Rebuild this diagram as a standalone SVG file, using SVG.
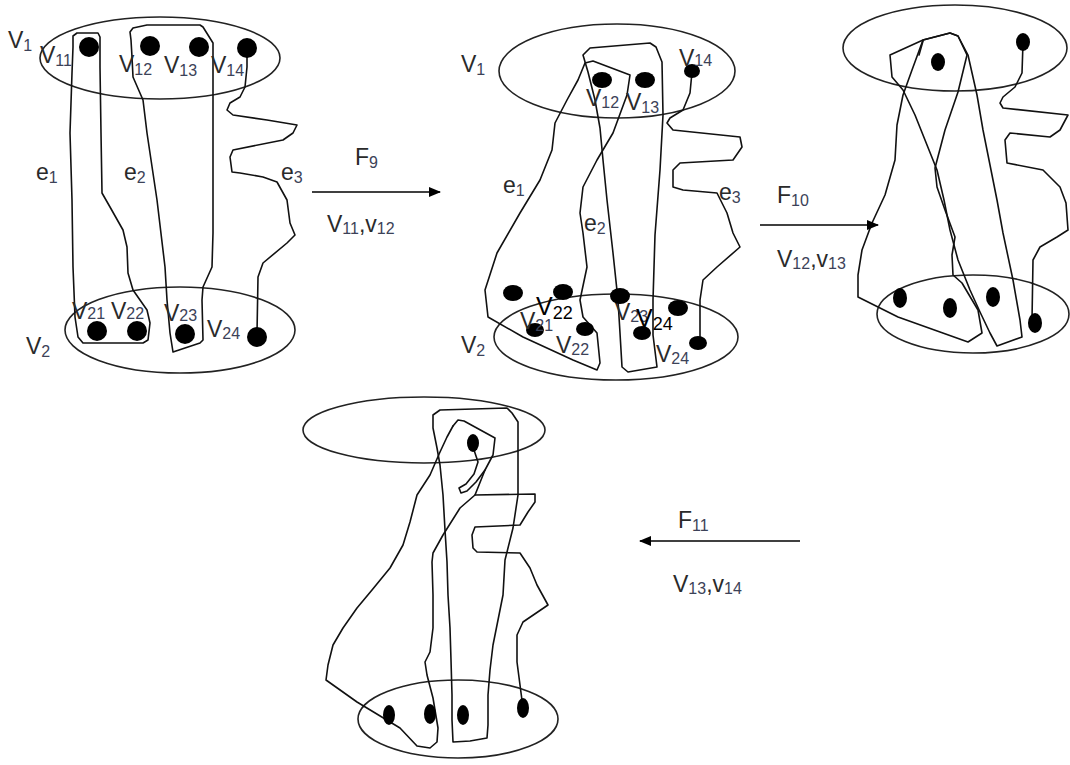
<svg xmlns="http://www.w3.org/2000/svg" width="1070" height="765" viewBox="0 0 1070 765">
<style>
.ln{fill:none;stroke:#111;stroke-width:1.6;stroke-linejoin:round;stroke-linecap:round}
.el{fill:none;stroke:#222;stroke-width:1.6}
.dot{fill:#000}
.t{font-family:"Liberation Sans",Arial,sans-serif;font-size:23px;fill:#2a2a2a}
.s{font-size:16px;fill:#3c4258}
.b{font-family:"Liberation Sans",Arial,sans-serif;font-size:25px;fill:#000}
.bs{font-size:18px;fill:#000}
.ar{fill:none;stroke:#000;stroke-width:1.6}
</style>
<defs>
<marker id="ah" viewBox="0 0 12 10" refX="11" refY="5" markerWidth="12" markerHeight="10" markerUnits="userSpaceOnUse" orient="auto">
<path d="M0,0 L12,5 L0,10 Z" fill="#000"/>
</marker>
</defs>
<rect width="1070" height="765" fill="#fff"/>

<g id="panel1">
<ellipse class="el" cx="160" cy="58" rx="120" ry="41"/>
<ellipse class="el" cx="180" cy="330" rx="115" ry="43"/>
<path class="ln" d="M73,47 L73,36 L77,33 L98,33 L100,37 L100,67 L101,133 L102,193 L110,207 L123,230 L127,247 L128,273 L133,290 L147,310 L150,323 L148,340 L143,343 L83,343 L78,337 L75,317 L73,267 L72,200 L70,133 L72,73 Z"/>
<path class="ln" d="M131,40 L130,32 L133,28 L147,25 L200,25 L203,27 L213,43 L213,100 L213,233 L212,267 L203,287 L202,300 L203,340 L200,343 L173,352 L170,333 L167,300 L165,267 L157,200 L147,133 L143,100 L133,77 L132,57 Z"/>
<path class="ln" d="M247,48 L247,67 L245,87 L240,97 L230,103 L227,110 L233,115 L267,120 L297,125 L293,133 L283,140 L233,150 L230,157 L232,172 L240,173 L263,177 L277,182 L287,200 L290,223 L295,235 L287,243 L263,263 L258,277 L257,333"/>
<circle class="dot" cx="89" cy="47" r="10"/>
<circle class="dot" cx="150" cy="46" r="10"/>
<circle class="dot" cx="199" cy="47" r="10"/>
<circle class="dot" cx="247" cy="48" r="10"/>
<circle class="dot" cx="97" cy="331" r="10"/>
<circle class="dot" cx="137" cy="331" r="10"/>
<circle class="dot" cx="185" cy="334" r="10"/>
<circle class="dot" cx="257" cy="337" r="10"/>
<text class="t" x="8" y="48">V<tspan class="s" dy="3">1</tspan></text>
<text class="t" x="40" y="63">V<tspan class="s" dy="3">11</tspan></text>
<text class="t" x="119" y="72">V<tspan class="s" dy="3">12</tspan></text>
<text class="t" x="164" y="73">V<tspan class="s" dy="3">13</tspan></text>
<text class="t" x="211" y="73">V<tspan class="s" dy="3">14</tspan></text>
<text class="t" x="36" y="180">e<tspan class="s" dy="3">1</tspan></text>
<text class="t" x="124" y="180">e<tspan class="s" dy="3">2</tspan></text>
<text class="t" x="281" y="180">e<tspan class="s" dy="3">3</tspan></text>
<text class="t" x="26" y="354">V<tspan class="s" dy="3">2</tspan></text>
<text class="t" x="72" y="319">V<tspan class="s">21</tspan></text>
<text class="t" x="111" y="319">V<tspan class="s">22</tspan></text>
<text class="t" x="164" y="321">V<tspan class="s">23</tspan></text>
<text class="t" x="207" y="337">V<tspan class="s" dy="2">24</tspan></text>
</g>

<g id="panel2">
<ellipse class="el" cx="617" cy="71" rx="118" ry="47"/>
<ellipse class="el" cx="616" cy="337" rx="122" ry="43"/>
<path class="ln" d="M585,63 L593,61 L630,75 L627,95 L613,133 L597,160 L583,187 L580,213 L583,233 L587,267 L580,300 L583,317 L597,333 L600,363 L597,370 L573,360 L523,337 L488,317 L485,290 L497,253 L520,213 L540,180 L552,150 L555,123 L567,100 L578,80 Z"/>
<path class="ln" d="M583,55 L590,48 L650,43 L656,47 L662,62 L663,115 L660,170 L655,235 L653,300 L653,335 L657,367 L628,372 L622,367 L620,333 L618,300 L613,253 L607,200 L603,160 L600,128 L595,100 L588,72 Z"/>
<path class="ln" d="M692,72 L690,93 L683,110 L670,118 L667,123 L673,130 L740,137 L742,147 L733,160 L680,163 L673,170 L673,187 L683,190 L717,193 L727,213 L733,233 L740,247 L717,267 L703,280 L700,300 L700,342"/>
<ellipse class="dot" cx="602" cy="80" rx="10" ry="8"/>
<ellipse class="dot" cx="645" cy="80" rx="10" ry="8"/>
<ellipse class="dot" cx="692" cy="71" rx="8" ry="7"/>
<ellipse class="dot" cx="535" cy="330" rx="9" ry="7"/>
<ellipse class="dot" cx="585" cy="329" rx="9" ry="7"/>
<ellipse class="dot" cx="642" cy="333" rx="9" ry="7"/>
<ellipse class="dot" cx="698" cy="343" rx="9" ry="7"/>
<text class="t" x="461" y="72">V<tspan class="s" dy="3">1</tspan></text>
<text class="t" x="586" y="106">V<tspan class="s" dy="2">12</tspan></text>
<text class="t" x="626" y="110">V<tspan class="s" dy="3">13</tspan></text>
<text class="t" x="679" y="66">V<tspan class="s">14</tspan></text>
<text class="t" x="503" y="193">e<tspan class="s" dy="3">1</tspan></text>
<text class="t" x="584" y="231">e<tspan class="s" dy="3">2</tspan></text>
<text class="t" x="719" y="200">e<tspan class="s" dy="3">3</tspan></text>
<text class="t" x="461" y="353">V<tspan class="s" dy="3">2</tspan></text>
<text class="t" x="520" y="329">V<tspan class="s" dy="2">21</tspan></text>
<text class="t" x="556" y="353">V<tspan class="s" dy="2">22</tspan></text>
<text class="t" x="615" y="320">V<tspan class="s" dy="2">23</tspan></text>
<text class="t" x="656" y="362">V<tspan class="s" dy="2">24</tspan></text>
<ellipse class="dot" cx="513" cy="293" rx="10" ry="8"/>
<ellipse class="dot" cx="563" cy="292" rx="10" ry="8"/>
<ellipse class="dot" cx="620" cy="296" rx="10" ry="8"/>
<ellipse class="dot" cx="678" cy="308" rx="10" ry="8"/>
<text class="b" x="536" y="315">V<tspan class="bs" dy="4">22</tspan></text>
<text class="b" x="636" y="327">V<tspan class="bs" dy="3">24</tspan></text>
</g>

<g id="panel3">
<ellipse class="el" cx="955" cy="48" rx="112" ry="43"/>
<ellipse class="el" cx="973" cy="314" rx="96" ry="39"/>
<path class="ln" d="M923,40 L912,70 L903,95 L897,125 L895,160 L885,195 L872,223 L862,250 L858,275 L858,297 L898,317 L968,342 L982,333 L978,310 L962,283 L953,275 L952,255 L955,237 L945,210 L937,187 L935,168 L945,130 L958,92 L967,55 L958,36 L950,33 Z"/>
<path class="ln" d="M890,55 L892,77 L903,90 L915,115 L927,145 L937,170 L944,200 L950,230 L958,260 L970,290 L980,312 L990,333 L997,346 L1022,337 L1020,320 L1013,280 L1003,233 L997,200 L990,165 L983,130 L977,95 L968,55 L958,36 L950,33 L923,40 Z"/>
<path class="ln" d="M923,41 L919,55"/>
<path class="ln" d="M1023,43 L1022,73 L1015,87 L1003,97 L1000,103 L1003,108 L1068,115 L1060,130 L1050,137 L1010,133 L1005,140 L1007,163 L1043,170 L1060,187 L1066,203 L1068,230 L1057,237 L1040,247 L1033,260 L1032,320"/>
<ellipse class="dot" cx="938" cy="62" rx="7" ry="9"/>
<ellipse class="dot" cx="1023" cy="42" rx="7" ry="9"/>
<ellipse class="dot" cx="900" cy="298" rx="7" ry="10"/>
<ellipse class="dot" cx="950" cy="308" rx="7" ry="10"/>
<ellipse class="dot" cx="993" cy="297" rx="7" ry="10"/>
<ellipse class="dot" cx="1035" cy="323" rx="7" ry="10"/>
</g>

<g id="panel4">
<ellipse class="el" cx="424" cy="430" rx="121" ry="33"/>
<ellipse class="el" cx="458" cy="719" rx="100" ry="39"/>
<path class="ln" d="M433,415 L440,410 L507,408 L512,413 L518,422 L518,460 L518,495 L513,528 L505,560 L503,595 L497,625 L493,645 L490,670 L488,695 L488,725 L487,738 L470,741 L453,742 L452,720 L452,695 L451,660 L450,628 L448,595 L447,562 L445,530 L443,495 L440,465 L437,448 L433,428 Z"/>
<path class="ln" d="M453,426 L458,420 L464,421 L495,438 L493,455 L485,470 L476,482 L467,491 L461,493 L459,488 L466,484 L474,474 L478,462 L474,450"/>
<path class="ln" d="M453,426 L447,437 L440,452 L430,475 L417,495 L410,522 L403,545 L390,568 L372,590 L357,608 L343,628 L333,645 L328,665 L326,680 L357,702 L400,728 L417,746 L430,748 L437,742 L438,728 L433,698 L427,675 L425,662 L430,652 L433,628 L433,595 L432,562 L433,553 L443,535 L460,508 L475,495 L485,470"/>
<path class="ln" d="M475,495 L535,494 L535,502 L528,512 L520,525 L475,527 L472,535 L473,548 L477,552 L520,553 L530,568 L537,585 L548,605 L523,622 L517,635 L517,662 L520,685 L523,708"/>
<ellipse class="dot" cx="473" cy="443" rx="6" ry="9"/>
<ellipse class="dot" cx="389" cy="715" rx="6" ry="10"/>
<ellipse class="dot" cx="430" cy="714" rx="6" ry="10"/>
<ellipse class="dot" cx="463" cy="715" rx="6" ry="10"/>
<ellipse class="dot" cx="523" cy="708" rx="6" ry="10"/>
</g>

<g id="connectors">
<line class="ar" x1="312" y1="192" x2="440" y2="192" marker-end="url(#ah)"/>
<line class="ar" x1="760" y1="225" x2="878" y2="225" marker-end="url(#ah)"/>
<line class="ar" x1="800" y1="541" x2="640" y2="541" marker-end="url(#ah)"/>
<text class="t" x="355" y="165">F<tspan class="s" dy="3">9</tspan></text>
<text class="t" x="327" y="232">V<tspan class="s" dy="2">11</tspan><tspan dy="-2">,v</tspan><tspan class="s" dy="2">12</tspan></text>
<text class="t" x="777" y="203">F<tspan class="s" dy="3">10</tspan></text>
<text class="t" x="777" y="267">V<tspan class="s" dy="2">12</tspan><tspan dy="-2">,v</tspan><tspan class="s" dy="2">13</tspan></text>
<text class="t" x="678" y="528">F<tspan class="s" dy="3">11</tspan></text>
<text class="t" x="673" y="592">V<tspan class="s" dy="2">13</tspan><tspan dy="-2">,v</tspan><tspan class="s" dy="2">14</tspan></text>
</g>
</svg>
